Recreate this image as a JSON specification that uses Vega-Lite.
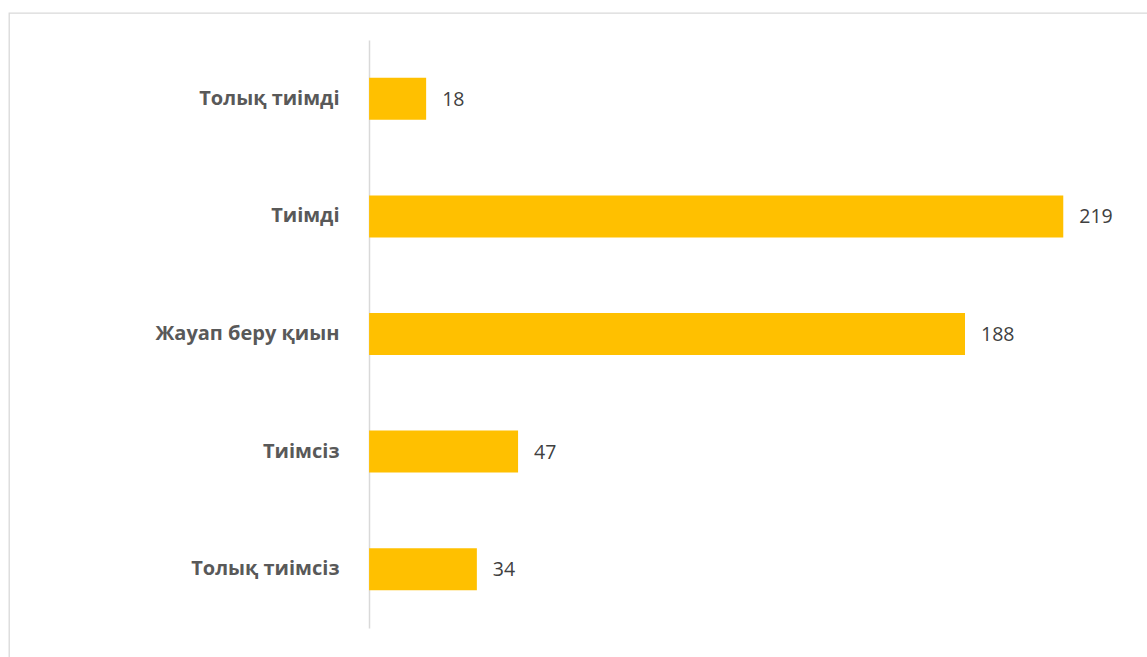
{
  "$schema": "https://vega.github.io/schema/vega-lite/v6.json",
  "width": 1150,
  "height": 655,
  "padding": {"left": 9, "top": 13, "right": 0, "bottom": 0},
  "autosize": {"type": "none"},
  "background": "white",
  "config": {
    "view": {"stroke": "#D9D9D9", "strokeWidth": 1.3},
    "axis": {"labelFont": "Open Sans", "titleFont": "Open Sans"}
  },
  "data": {
    "values": [
      {"category": "Толық тиімді", "value": 18},
      {"category": "Тиімді", "value": 219},
      {"category": "Жауап беру қиын", "value": 188},
      {"category": "Тиімсіз", "value": 47},
      {"category": "Толық тиімсіз", "value": 34}
    ]
  },
  "encoding": {
    "y": {
      "field": "category",
      "type": "nominal",
      "sort": null,
      "scale": {"range": [27, 615], "paddingInner": 0.643, "paddingOuter": 0.3215},
      "axis": {
        "title": null,
        "orient": "left",
        "offset": -360,
        "domain": true,
        "domainColor": "#D9D9D9",
        "domainWidth": 1.5,
        "ticks": false,
        "labelPadding": 30,
        "labelLimit": 400,
        "labelFontSize": 20,
        "labelFontWeight": "bold",
        "labelColor": "#595959"
      }
    },
    "x": {
      "field": "value",
      "type": "quantitative",
      "scale": {"domain": [-113.6, 249.2], "nice": false, "zero": false},
      "axis": null
    }
  },
  "layer": [
    {
      "mark": {"type": "bar", "color": "#FFC000"},
      "encoding": {"x2": {"datum": 0}}
    },
    {
      "mark": {"type": "text", "align": "left", "baseline": "middle", "dx": 16, "dy": 1, "font": "Open Sans", "fontSize": 19.5, "color": "#404040"},
      "encoding": {"text": {"field": "value", "type": "quantitative"}}
    }
  ]
}
